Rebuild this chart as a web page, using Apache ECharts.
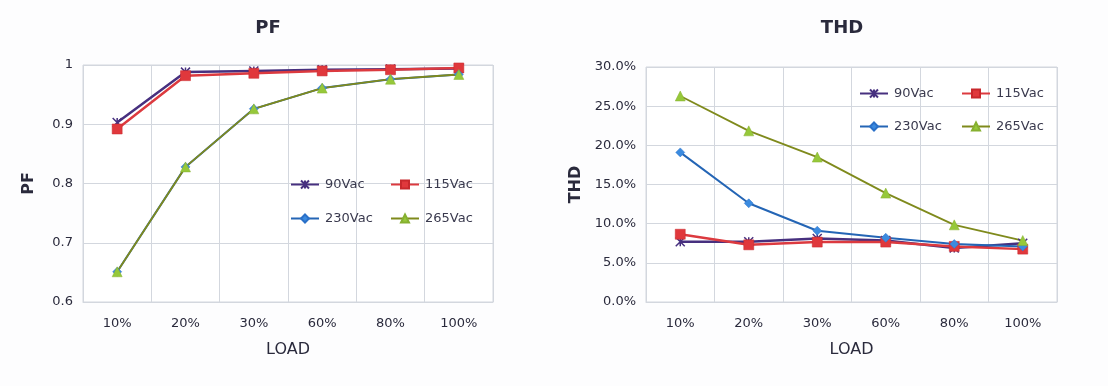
<!DOCTYPE html>
<html><head><meta charset="utf-8">
<script src="https://cdn.jsdelivr.net/npm/echarts@6/dist/echarts.min.js"></script>
<style>html,body{margin:0;padding:0;background:#fdfdfe;}#c{width:1108px;height:386px;}</style>
</head><body><div id="c"></div>
<script>
const categories = ['10%','20%','30%','60%','80%','100%'];
const seriesNames = ['90Vac','115Vac','230Vac','265Vac'];
const pf90  = [0.903, 0.988, 0.990, 0.992, 0.993, 0.994];
const pf115 = [0.892, 0.982, 0.986, 0.990, 0.992, 0.995];
const pf230 = [0.651, 0.828, 0.926, 0.961, 0.976, 0.984];
const pf265 = [0.651, 0.828, 0.926, 0.961, 0.976, 0.984];
const thd90  = [7.7, 7.7, 8.1, 7.85, 6.9, 7.5];
const thd115 = [8.65, 7.3, 7.65, 7.65, 7.1, 6.75];
const thd230 = [19.1, 12.6, 9.1, 8.2, 7.4, 7.1];
const thd265 = [26.3, 21.85, 18.5, 13.9, 9.85, 7.85];
const pfTicks = [0.6, 0.7, 0.8, 0.9, 1];
const thdTicks = [0, 5, 10, 15, 20, 25, 30];

const txt = '#2a2a3c';
const font = 'DejaVu Sans';
const grid = '#d3d7de';
const styles = [
  {line:'#47307f', mark:'#4a3390', symbol:'path://M0,0L10,10M10,0L0,10M5,0L5,10', size:9, w:2.5, border:'#47307f', bw:1.5},
  {line:'#dc3a3f', mark:'#e0383c', symbol:'rect', size:10, w:2.5, border:'#c8282c', bw:0.5},
  {line:'#2465b5', mark:'#3b8be0', symbol:'diamond', size:9, w:2, border:'#2a70c8', bw:0.5},
  {line:'#7f8a1c', mark:'#96c83a', symbol:'triangle', size:10, w:1.8, border:'#86b030', bw:0.5}
];

function mkSeries(name, data, idx, st){
  return {name, type:'line', xAxisIndex:idx, yAxisIndex:idx, data,
    symbol:st.symbol, symbolSize:st.size, showAllSymbol:true,
    lineStyle:{color:st.line, width:st.w},
    itemStyle:{color:st.mark, borderColor:st.border, borderWidth:st.bw},
    emphasis:{disabled:true}, animation:false};
}
const pfData = [pf90, pf115, pf230, pf265];
const thdData = [thd90, thd115, thd230, thd265];
const series = [];
seriesNames.forEach((n,i)=>series.push(mkSeries(n, pfData[i], 0, styles[i])));
seriesNames.forEach((n,i)=>series.push(mkSeries(n, thdData[i], 1, styles[i])));

function legend(name, left, top){
  return {data:[name], left, top, itemWidth:28, itemHeight:10, itemGap:0,
    textStyle:{fontFamily:font, fontSize:13, color:'#3a3a4e', padding:[0,0,0,1]},
    selectedMode:false, padding:0};
}
const legends = [
  legend('90Vac', 290, 178), legend('115Vac', 390, 178),
  legend('230Vac', 290, 212), legend('265Vac', 390, 212),
  legend('90Vac', 859, 87), legend('115Vac', 961, 87),
  legend('230Vac', 859, 120), legend('265Vac', 961, 120)
];

function xAxis(idx){
  return {type:'category', gridIndex:idx, data:categories, boundaryGap:true,
    name:'LOAD', nameLocation:'middle', nameGap:40,
    nameTextStyle:{fontFamily:font, fontSize:16, color:txt},
    axisLine:{show:true, lineStyle:{color:grid}}, axisTick:{show:false},
    splitLine:{show:true, lineStyle:{color:grid}},
    axisLabel:{fontFamily:font, fontSize:13, color:txt, margin:15}};
}
const option = {
  backgroundColor:'#fdfdfe',
  title:[
    {text:'PF', left:263, top:14, textAlign:'center', textStyle:{fontFamily:font, fontSize:18, fontWeight:'bold', color:txt}},
    {text:'THD', left:837, top:14, textAlign:'center', textStyle:{fontFamily:font, fontSize:18, fontWeight:'bold', color:txt}}
  ],
  legend: legends,
  grid:[
    {left:83, top:65, width:410, height:237, show:true, borderColor:grid, borderWidth:1, backgroundColor:'#ffffff'},
    {left:646, top:67, width:411, height:235, show:true, borderColor:grid, borderWidth:1, backgroundColor:'#ffffff'}
  ],
  xAxis:[xAxis(0), xAxis(1)],
  yAxis:[
    {type:'value', gridIndex:0, min:pfTicks[0], max:pfTicks[pfTicks.length-1], interval:0.1,
      name:'PF', nameLocation:'middle', nameGap:46,
      nameTextStyle:{fontFamily:font, fontSize:16, fontWeight:'bold', color:txt},
      axisLine:{show:false}, axisTick:{show:false},
      splitLine:{lineStyle:{color:grid}},
      axisLabel:{fontFamily:font, fontSize:13, color:txt, margin:10,
        formatter:v=>pfTicks.some(t=>Math.abs(t-v)<1e-9)?(Math.abs(v-1)<1e-9?'1':v.toFixed(1)):''}},
    {type:'value', gridIndex:1, min:thdTicks[0], max:thdTicks[thdTicks.length-1], interval:5,
      name:'THD', nameLocation:'middle', nameGap:62,
      nameTextStyle:{fontFamily:font, fontSize:16, fontWeight:'bold', color:txt},
      axisLine:{show:false}, axisTick:{show:false},
      splitLine:{lineStyle:{color:grid}},
      axisLabel:{fontFamily:font, fontSize:13, color:txt, margin:10, formatter:v=>v.toFixed(1)+'%'}}
  ],
  series
};
const chart = echarts.init(document.getElementById('c'), null, {renderer:'canvas'});
chart.setOption(option);
</script>
</body></html>
